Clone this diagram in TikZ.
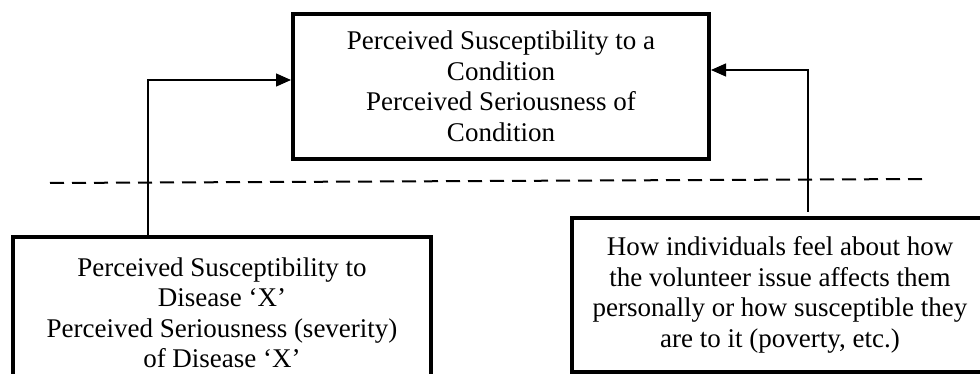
\documentclass[tikz,border=0pt]{standalone}
\usepackage{fontspec}
\setmainfont{Liberation Serif}
\usetikzlibrary{arrows.meta,calc}
\begin{document}
\begin{tikzpicture}[x=1pt,y=-1pt,
  box/.style={draw,line width=4pt,align=center,inner sep=0pt,
    font=\fontsize{27}{30.5}\selectfont},
  link/.style={line width=1.3pt,-{Triangle[length=15pt,width=13pt]}},
  divider/.style={line width=2pt,dash pattern=on 14pt off 8pt}]
\useasboundingbox (0,0) rectangle (980,374);
\clip (0,0) rectangle (980,374);

% concept box
\node[box,minimum width=416pt,minimum height=145pt] (tb) at (501,86.5)
  {Perceived Susceptibility to a\\Condition\\Perceived Seriousness of\\Condition};

% theory side
\node[box,minimum width=418pt,minimum height=152pt] (lb) at (222,313)
  {Perceived Susceptibility to\\Disease ‘X’\\Perceived Seriousness (severity)\\of Disease ‘X’};

% application side
\node[box,minimum width=416pt,minimum height=154pt] (rb) at (780,295)
  {How individuals feel about how\\the volunteer issue affects them\\personally or how susceptible they\\are to it (poverty, etc.)};

% dividing line
\coordinate (dl) at (50,183);
\coordinate (dr) at (924,179);
\draw[divider] (dl) -- (dr);

% connectors
\draw[link] ([xshift=-74pt]lb.north) |- ([yshift=6.5pt]tb.west);
\draw[link,shorten <=4pt] ([xshift=28pt]rb.north) |- ([yshift=16.5pt]tb.east);
\end{tikzpicture}
\end{document}
